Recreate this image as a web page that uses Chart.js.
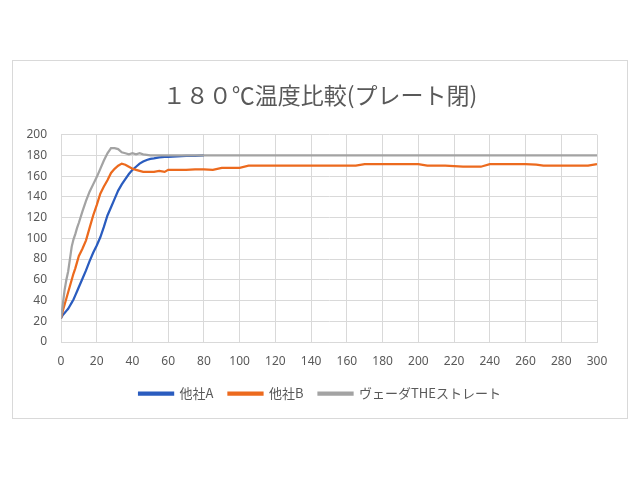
<!DOCTYPE html>
<html lang="ja">
<head>
  <meta charset="UTF-8" />
  <title>180℃温度比較(プレート閉)</title>
  <script src="https://cdn.jsdelivr.net/npm/chart.js@4.4.1/dist/chart.umd.min.js"></script>
  <style>
    *{margin:0;padding:0;box-sizing:border-box}
    body{background:#fff;width:640px;height:480px;overflow:hidden}
    .frame{position:absolute;left:12px;top:60px;width:616px;height:359px;border:1px solid #d9d9d9;background:#fff}
    .frame canvas{position:absolute;left:0;top:0}
  </style>
</head>
<body>
  <div class="frame"><canvas id="tempChart" width="614" height="357"></canvas></div>
  <script>
    // elapsed time (s)
    const seconds = [0,1,2,3,4,5,6,7,8,9,10,12,14,16,18,20,22,24,26,28,30,32,34,36,38,40,42,44,46,48,50,52,55,58,60,65,70,75,80,85,90,95,100,105,110,120,130,140,150,160,165,170,175,180,190,200,205,210,215,220,225,230,235,240,250,260,266,270,275,280,290,295,300];
    // 他社A
    const companyA = [23,26,28,30,32,35,38,41,45,49,53,61,69,78,86,93,101,111,122,130,138,146,152,157,162,166,169,172,174,175.5,176.5,177,178,178.5,178.5,179,179.5,179.5,180,null,null,null,null,null,null,null,null,null,null,null,null,null,null,null,null,null,null,null,null,null,null,null,null,null,null,null,null,null,null,null,null,null,null];
    // 他社B
    const companyB = [23,30,36,42,48,54,60,66,71,77,83,90,98,110,122,132,143,150,156,163,167,170,172,171,169,167,166,165,164,164,164,164,165,164,166,166,166,166.5,166.5,166,168,168,168,170,170,170,170,170,170,170,170,171.5,171.5,171.5,171.5,171.5,170,170,170,169.5,169,169,169,171.5,171.5,171.5,171,170,170,170,170,170,171.5];
    // ヴェーダTHEストレート
    const vedaStraight = [23,36,50,60,68,80,92,99,104,110,115,126,136,145,152,159,167,175,182,187,187,186,183,182,181,182,181,182,181,180.5,180,180,180,180,180,180,180,180,180,180,180,180,180,180,180,180,180,180,180,180,180,180,180,180,180,180,180,180,180,180,180,180,180,180,180,180,180,180,180,180,180,180,180];

    const seriesNames = ['他社A','他社B','ヴェーダTHEストレート'];
    const seriesColors = ['#2a5cbf','#ec6a1e','#a3a3a3'];
    const textColor = '#595959';

    const toPoints = arr => seconds.map((s,i)=>({x:s,y:arr[i]}));

    new Chart(document.getElementById('tempChart').getContext('2d'),{
      type:'line',
      data:{
        datasets:[companyA,companyB,vedaStraight].map((arr,i)=>({
          label:seriesNames[i],
          data:toPoints(arr),
          borderColor:seriesColors[i],
          backgroundColor:seriesColors[i],
          borderWidth:2.25,
          pointRadius:0,
          tension:0,
          spanGaps:false,
          order:2-i
        }))
      },
      options:{
        responsive:false,
        animation:false,
        layout:{padding:{left:0,right:0,top:0,bottom:8}},
        plugins:{
          title:{display:true,text:'１８０℃温度比較(プレート閉)',color:textColor,
            font:{family:'"Noto Sans CJK JP"',size:23,weight:'normal'},padding:{top:20,bottom:26}},
          legend:{position:'bottom',
            labels:{color:textColor,font:{family:'"Noto Sans CJK JP"',size:13},boxWidth:34,boxHeight:2,padding:15,
              sort:(a,b)=>a.datasetIndex-b.datasetIndex}},
          tooltip:{enabled:false}
        },
        scales:{
          x:{type:'linear',min:0,max:300,
            ticks:{stepSize:20,color:textColor,padding:12,maxRotation:0,font:{family:'"Noto Sans"',size:12}},
            grid:{color:'#d9d9d9',drawTicks:false},border:{color:'#d9d9d9'},
            afterFit:s=>{s.height=30;}},
          y:{min:0,max:200,
            ticks:{stepSize:20,color:textColor,padding:14,font:{family:'"Noto Sans"',size:12}},
            grid:{color:'#d9d9d9',drawTicks:false},border:{color:'#d9d9d9'},
            afterFit:s=>{s.width=48;}},
          // empty right margin so the title and legend stay centred on the frame
          spacer:{position:'right',display:true,ticks:{display:false},grid:{display:false},border:{display:false},
            afterFit:s=>{s.width=30;}}
        }
      }
    });
  </script>
</body>
</html>
